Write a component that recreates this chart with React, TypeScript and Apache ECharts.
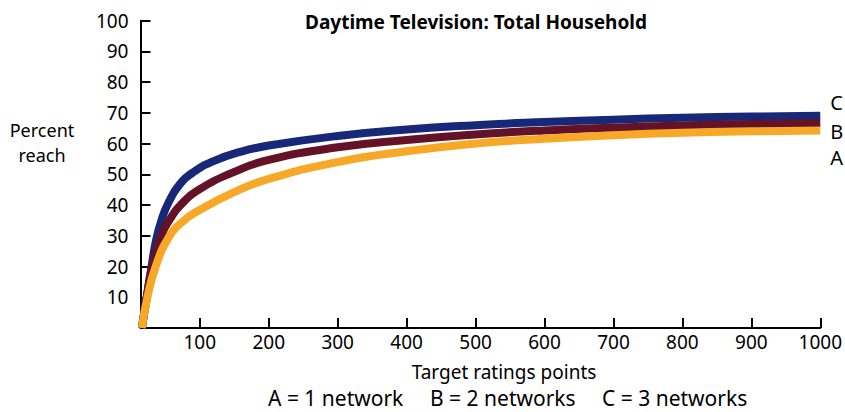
import React, { useEffect, useRef } from "react";
import * as echarts from "echarts";

// A = 1 network (orange)
const xA = [16, 24, 36, 55, 75, 100, 150, 200, 300, 400, 500, 600, 700, 800, 900, 1000];
const yA = [0, 10, 20, 29.5, 34.6, 38.4, 44.2, 48.5, 54, 57.5, 60, 61.6, 62.7, 63.5, 64, 64.3];
// B = 2 networks (maroon)
const xB = [16, 23, 31, 44, 57, 72, 100, 150, 200, 300, 400, 500, 600, 700, 800, 900, 1000];
const yB = [0, 10, 20, 30, 35.5, 40, 45.2, 50.8, 54.7, 58.8, 61.2, 63, 64.3, 65.2, 65.9, 66.4, 66.7];
// C = 3 networks (navy)
const xC = [16, 23, 30, 37, 45, 55, 70, 90, 120, 160, 200, 300, 400, 500, 600, 700, 800, 900, 1000];
const yC = [0, 10, 20, 29, 35.5, 41, 46.5, 50.6, 54.3, 57.4, 59.4, 62.5, 64.6, 66, 67, 67.8, 68.4, 68.8, 69.1];

const xTicks = [100, 200, 300, 400, 500, 600, 700, 800, 900, 1000];
const seriesNames = ["A", "B", "C"];
const colors = ["#f7a827", "#641227", "#172878"];
const legendTexts = ["A = 1 network", "B = 2 networks", "C = 3 networks"];

const FONT = "Noto Sans";

export default function App() {
  const ref = useRef<HTMLDivElement>(null);
  useEffect(() => {
    document.body.style.margin = "0";
    const chart = echarts.init(ref.current!, null, { renderer: "svg" });
    const pair = (xs: number[], ys: number[]) => xs.map((x, i) => [x, ys[i]]);
    const mk = (name: string, xs: number[], ys: number[], color: string, offY: number) => ({
      name,
      type: "line",
      data: pair(xs, ys),
      smooth: 0.5,
      showSymbol: false,
      lineStyle: { width: 8, color },
      itemStyle: { color },
      endLabel: {
        show: true,
        formatter: name,
        offset: [2, offY],
        fontSize: 20,
        fontFamily: FONT,
        color: "#000",
      },
      z: 2,
    });
    const txt = (text: string, x: number, y: number, size: number, align = "left") => ({
      type: "text",
      x,
      y,
      style: { text, fontSize: size, fontFamily: FONT, fill: "#000", align, verticalAlign: "middle" },
    });
    chart.setOption({
      animation: false,
      textStyle: { fontFamily: FONT },
      title: {
        text: "Daytime Television: Total Household",
        left: 471,
        top: 7,
        textAlign: "center",
        textStyle: { fontSize: 19, fontWeight: "bold", color: "#000", fontFamily: FONT },
      },
      grid: { left: 140.5, right: 24, top: 20.7, bottom: 84 },
      xAxis: {
        type: "value",
        min: 14,
        max: 1000,
        axisLine: { lineStyle: { color: "#000", width: 2 } },
        axisTick: {
          inside: true,
          length: 10,
          lineStyle: { color: "#000", width: 2 },
          customValues: xTicks,
        },
        axisLabel: {
          customValues: xTicks,
          color: "#000",
          fontSize: 19,
          margin: 4,
          fontFamily: FONT,
          formatter: (v: number) => String(v),
        },
        splitLine: { show: false },
      },
      yAxis: {
        type: "value",
        min: 0,
        max: 100,
        interval: 10,
        axisLine: { show: true, lineStyle: { color: "#000", width: 2 } },
        axisTick: { show: true, inside: true, length: 10, lineStyle: { color: "#000", width: 2 } },
        axisLabel: {
          color: "#000",
          fontSize: 19,
          margin: 12,
          fontFamily: FONT,
          formatter: (v: number) => (v === 0 ? "" : String(v)),
        },
        splitLine: { show: false },
      },
      graphic: [
        {
          type: "text",
          x: 42,
          y: 142,
          style: {
            text: "Percent\nreach",
            fontSize: 18,
            fontFamily: FONT,
            fill: "#000",
            align: "center",
            verticalAlign: "middle",
            lineHeight: 25,
          },
        },
        txt("Target ratings points", 504, 372, 19, "center"),
        txt(legendTexts[0], 268, 398, 21),
        txt(legendTexts[1], 430, 398, 21),
        txt(legendTexts[2], 602, 398, 21),
      ],
      series: [
        mk(seriesNames[2], xC, yC, colors[2], -13),
        mk(seriesNames[1], xB, yB, colors[1], 8),
        mk(seriesNames[0], xA, yA, colors[0], 27),
      ],
    });
    return () => chart.dispose();
  }, []);
  return <div ref={ref} style={{ width: 845, height: 412 }} />;
}
